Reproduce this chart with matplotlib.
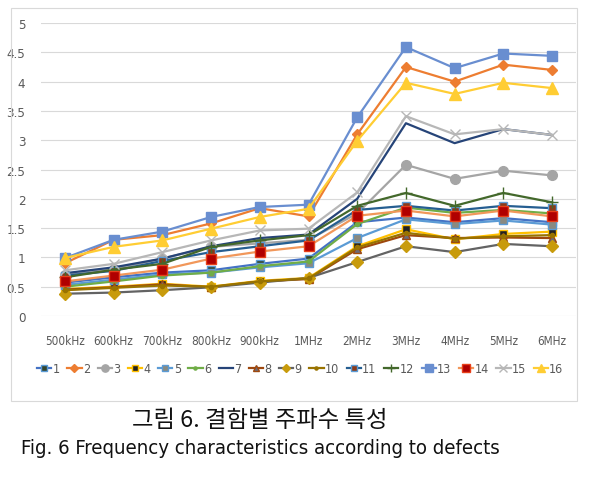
import matplotlib
matplotlib.use("Agg")
import matplotlib.pyplot as plt
from matplotlib import font_manager
from matplotlib.patches import Rectangle

# --- dados ---
freqs = ["500kHz", "600kHz", "700kHz", "800kHz", "900kHz", "1MHz",
         "2MHz", "3MHz", "4MHz", "5MHz", "6MHz"]

s1 = [0.57, 0.66, 0.74, 0.78, 0.89, 0.98, 1.60, 1.68, 1.60, 1.67, 1.60]
s2 = [0.90, 1.30, 1.38, 1.58, 1.84, 1.70, 3.10, 4.25, 4.00, 4.29, 4.20]
s3 = [0.70, 0.80, 0.98, 1.18, 1.24, 1.30, 1.75, 2.58, 2.34, 2.48, 2.40]
s4 = [0.46, 0.50, 0.55, 0.50, 0.60, 0.65, 1.19, 1.48, 1.31, 1.40, 1.44]
s5 = [0.53, 0.62, 0.71, 0.74, 0.83, 0.90, 1.33, 1.65, 1.57, 1.63, 1.56]
s6 = [0.50, 0.59, 0.69, 0.74, 0.85, 0.93, 1.57, 1.85, 1.76, 1.81, 1.75]
s7 = [0.73, 0.83, 0.98, 1.19, 1.33, 1.39, 2.00, 3.29, 2.95, 3.19, 3.09]
s8 = [0.45, 0.49, 0.54, 0.49, 0.59, 0.63, 1.14, 1.38, 1.33, 1.34, 1.33]
s9 = [0.38, 0.40, 0.44, 0.49, 0.57, 0.65, 0.92, 1.19, 1.09, 1.23, 1.19]
s10 = [0.44, 0.48, 0.52, 0.50, 0.59, 0.64, 1.17, 1.42, 1.32, 1.36, 1.38]
s11 = [0.69, 0.77, 0.94, 1.09, 1.19, 1.29, 1.81, 1.88, 1.80, 1.88, 1.84]
s12 = [0.66, 0.79, 0.89, 1.18, 1.29, 1.38, 1.88, 2.10, 1.88, 2.10, 1.94]
s13 = [0.99, 1.30, 1.44, 1.69, 1.86, 1.90, 3.39, 4.59, 4.23, 4.48, 4.44]
s14 = [0.59, 0.69, 0.79, 0.98, 1.10, 1.19, 1.71, 1.80, 1.70, 1.80, 1.70]
s15 = [0.78, 0.89, 1.09, 1.29, 1.46, 1.49, 2.11, 3.41, 3.10, 3.19, 3.09]
s16 = [0.99, 1.18, 1.29, 1.49, 1.69, 1.83, 2.99, 3.98, 3.79, 3.98, 3.89]

series = [s1, s2, s3, s4, s5, s6, s7, s8, s9, s10, s11, s12, s13, s14, s15, s16]
labels = [str(i) for i in range(1, 17)]

# estilo de cada série: (cor da linha, marcador, tamanho, preenchimento, borda)
estilos = [
    ("#4472C4", "s", 6, "#34452C", "#5B9BD5"),
    ("#ED7D31", "D", 5, "#ED7D31", "#ED7D31"),
    ("#A5A5A5", "o", 7, "#A5A5A5", "#A5A5A5"),
    ("#FFC000", "s", 6, "#222222", "#FFC000"),
    ("#5B9BD5", "s", 6, "#8A8A80", "#5B9BD5"),
    ("#70AD47", "o", 3, "#70AD47", "#70AD47"),
    ("#264478", "None", 0, "none", "none"),
    ("#9E480E", "^", 6, "#6B6B7B", "#9E480E"),
    ("#636363", "D", 6, "#C89B0C", "#C89B0C"),
    ("#997300", "o", 3, "#997300", "#997300"),
    ("#255E91", "s", 6, "#8B3A1A", "#5B9BD5"),
    ("#43682B", "+", 8, "#43682B", "#43682B"),
    ("#698ED0", "s", 7.5, "#698ED0", "#698ED0"),
    ("#F1975A", "s", 7, "#B00000", "#E8401A"),
    ("#B7B7B7", "x", 7, "#B7B7B7", "#B7B7B7"),
    ("#FFCD33", "^", 8, "#FFCD33", "#FFCD33"),
]

# fonte estreita, se existir
fonte = {"family": "Liberation Sans"}
for f in font_manager.fontManager.ttflist:
    if f.name == "Liberation Sans Narrow":
        fonte = {"family": "Liberation Sans Narrow"}
        break
    if f.name == "DejaVu Sans" and f.stretch == "condensed":
        fonte = {"family": "DejaVu Sans", "stretch": "condensed"}

fig = plt.figure(figsize=(5.91, 4.81), dpi=100)
ax = fig.add_axes([0.0687, 0.341, 0.9066, 0.609])

x = list(range(len(freqs)))
for ys, lab, (cor, mk, ms, fc, ec) in zip(series, labels, estilos):
    ax.plot(x, ys, color=cor, lw=1.6, marker=mk, markersize=ms,
            markerfacecolor=fc, markeredgecolor=ec, markeredgewidth=1.0,
            label=lab)

ax.set_xlim(-0.5, len(freqs) - 0.5)
ax.set_ylim(0, 5)
ax.set_yticks([0, 0.5, 1, 1.5, 2, 2.5, 3, 3.5, 4, 4.5, 5])
ax.set_yticklabels(["0", "0.5", "1", "1.5", "2", "2.5", "3", "3.5", "4", "4.5", "5"])
ax.set_xticks(x)
ax.set_xticklabels(freqs)
ax.grid(axis="y", color="#D9D9D9", lw=0.8)
ax.set_axisbelow(True)
for sp in ax.spines.values():
    sp.set_visible(False)
ax.tick_params(length=0, colors="#595959")
ax.tick_params(axis="x", pad=13, labelsize=8.5)
ax.tick_params(axis="y", pad=11, labelsize=9.5)
for t in ax.get_xticklabels() + ax.get_yticklabels():
    t.set_fontfamily(fonte["family"])
    t.set_fontstretch(fonte.get("stretch", "normal"))

leg = fig.legend(loc="center", bbox_to_anchor=(0.508, 0.231), ncol=16,
                 frameon=False, handlelength=1.15, handletextpad=0.1,
                 columnspacing=0.6, markerscale=0.75,
                 prop=font_manager.FontProperties(size=9, **fonte))
for t in leg.get_texts():
    t.set_color("#595959")

# moldura do gráfico
fig.patches.append(Rectangle((11 / 591, 1 - 402 / 481), 566 / 591, 393 / 481,
                             transform=fig.transFigure, fill=False,
                             edgecolor="#D9D9D9", lw=0.8))

fig.text(0.44, 1 - 421 / 481, "그림 6. 결함별 주파수 특성", ha="center", va="center",
         fontsize=16.8, family=["Noto Sans CJK KR", "DejaVu Sans"], color="#111111")
fig.text(0.44, 1 - 449 / 481, "Fig. 6 Frequency characteristics according to defects",
         ha="center", va="center", fontsize=14.6, color="#111111", **fonte)

fig.savefig("out.png", dpi=100)
